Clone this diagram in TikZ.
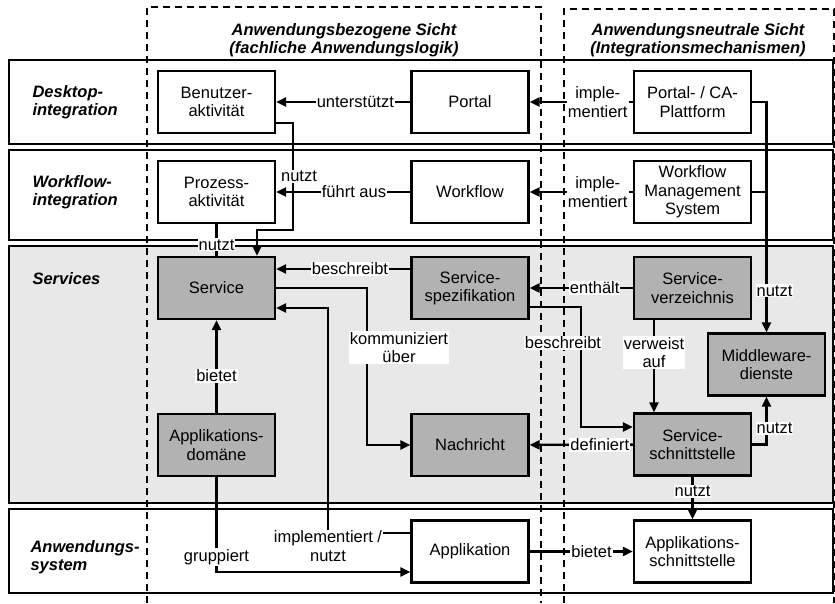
\documentclass[tikz,border=0pt]{standalone}
\usepackage{fontspec}
\setmainfont{Liberation Sans}
\usetikzlibrary{arrows.meta}
\definecolor{boxgray}{gray}{0.70}
\definecolor{lanegray}{gray}{0.91}

\begin{document}
\begin{tikzpicture}[x=1pt,y=-1pt,
    font=\fontsize{16.5}{18.5}\selectfont,
    box/.style={draw,line width=2.3pt,fill=white,minimum width=117pt,
      minimum height=62pt,inner sep=0pt,align=center},
    gbox/.style={box,fill=boxgray},
    lane/.style={draw,line width=2.3pt},
    lanetext/.style={anchor=west,align=left,
      font=\fontsize{16.5}{18.5}\selectfont\bfseries\itshape},
    coltext/.style={align=center,
      font=\fontsize{16.5}{18.5}\selectfont\bfseries\itshape},
    view/.style={line width=1.7pt,dash pattern=on 7pt off 5pt},
    conn/.style={line width=2.3pt,-{Triangle[length=10pt,width=9pt]}},
    plain/.style={line width=2.3pt},
    lbl/.style={fill=white,inner sep=1pt,align=center}]
    \useasboundingbox (0,0) rectangle (835,603);

    \draw[lane] (9,60) rectangle (833,144);
    \draw[lane] (9,150) rectangle (833,240);
    \draw[lane,fill=lanegray] (9,246) rectangle (833,503);
    \draw[lane] (9,509) rectangle (833,593);

    \draw[view] (147,603) -- (147,7) -- (541,7) -- (541,603);
    \draw[view] (564,603) -- (564,9) -- (834,9) -- (834,603);

    \node[coltext] (bezogen) at (344,40)
      {Anwendungsbezogene Sicht\\(fachliche Anwendungslogik)};
    \node[coltext] (neutral) at (698,40)
      {Anwendungsneutrale Sicht\\(Integrationsmechanismen)};

    \node[lanetext] (desktop) at (29,102) {Desktop-\\integration};
    \node[lanetext] (wfint) at (29,192) {Workflow-\\integration};
    \node[lanetext] (services) at (29,279) {Services};
    \node[lanetext] (anwsys) at (27,557) {Anwendungs-\\system};

    \node[box] (benutzer) at (216.5,102) {Benutzer-\\aktivität};
    \node[box] (portal) at (470,102) {Portal};
    \node[box] (plattform) at (692.5,102) {Portal- / CA-\\Plattform};
    \node[box] (prozess) at (216.5,192) {Prozess-\\aktivität};
    \node[box] (workflow) at (470,192) {Workflow};
    \node[box] (wms) at (692.5,192) {Workflow\\Management\\System};
    \node[gbox] (service) at (216.5,288) {Service};
    \node[gbox] (spezifikation) at (470,288) {Service-\\spezifikation};
    \node[gbox] (verzeichnis) at (692.5,288) {Service-\\verzeichnis};
    \node[gbox] (middleware) at (766.5,364.5) {Middleware-\\dienste};
    \node[gbox] (domaene) at (216.5,445) {Applikations-\\domäne};
    \node[gbox] (nachricht) at (470,445) {Nachricht};
    \node[gbox] (sschnitt) at (692.5,444.5) {Service-\\schnittstelle};
    \node[box] (applikation) at (470,551.5) {Applikation};
    \node[box] (aschnitt) at (692.5,551.5) {Applikations-\\schnittstelle};

    \draw[conn] (portal) -- node[lbl,pos=0.41]{unterstützt} (benutzer);
    \draw[conn] (plattform) -- node[lbl,pos=0.34]{imple-\\mentiert} (portal);
    \draw[conn] (workflow) -- node[lbl,pos=0.42]{führt aus} (prozess);
    \draw[conn] (wms) -- node[lbl,pos=0.34]{imple-\\mentiert} (workflow);
    \draw[conn] ([yshift=-21pt]benutzer.east) -- (293,123)
      -- node[lbl,pos=0.5,xshift=6pt]{nutzt} (293,230)
      -| ([xshift=40.5pt]service.north);
    \draw[plain] (prozess) -- node[lbl,pos=0.65]{nutzt} (service);
    \draw[conn] (verzeichnis) -- node[lbl,pos=0.37]{enthält} (spezifikation);
    \draw[conn] ([yshift=19pt]spezifikation.west)
      -- node[lbl,pos=0.45]{beschreibt} ([yshift=19pt]service.east);
    \draw[conn] (service.east) -- (367,288)
      |- node[lbl,pos=0.19,xshift=32pt]{kommuniziert\\über} (nachricht.west);
    \draw[conn] (domaene) -- node[lbl,pos=0.4]{bietet} (service);
    \draw[conn] ([yshift=18.5pt]applikation.west) -- (328,533)
      node[lbl,yshift=-13pt]{implementiert /\\nutzt}
      |- ([yshift=-20pt]service.east);
    \draw[conn] (domaene.south)
      |- node[lbl,pos=0.42]{gruppiert} ([yshift=-20.5pt]applikation.west);
    \draw[conn] (applikation) -- node[lbl,pos=0.6]{bietet} (aschnitt);
    \draw[conn] (sschnitt) -- node[lbl,pos=0.32]{definiert} (nachricht);
    \draw[conn] ([yshift=-19pt]spezifikation.east) -- (581,307)
      |- node[lbl,pos=0.15,xshift=-18pt]{beschreibt} ([yshift=17.5pt]sschnitt.west);
    \draw[conn] ([xshift=-38.5pt]verzeichnis.south)
      -- node[lbl,pos=0.35]{verweist\\auf} ([xshift=-38.5pt]sschnitt.north);
    \draw[plain] (wms.east) -- (wms.east -| middleware.north);
    \draw[conn] (plattform.east)
      -| node[lbl,pos=0.91,xshift=8pt]{nutzt} (middleware.north);
    \draw[conn] (sschnitt.east)
      -| node[lbl,pos=0.67,xshift=8pt]{nutzt} (middleware.south);
    \draw[conn] (sschnitt) -- node[lbl,pos=0.34]{nutzt} (aschnitt);
\end{tikzpicture}
\end{document}
